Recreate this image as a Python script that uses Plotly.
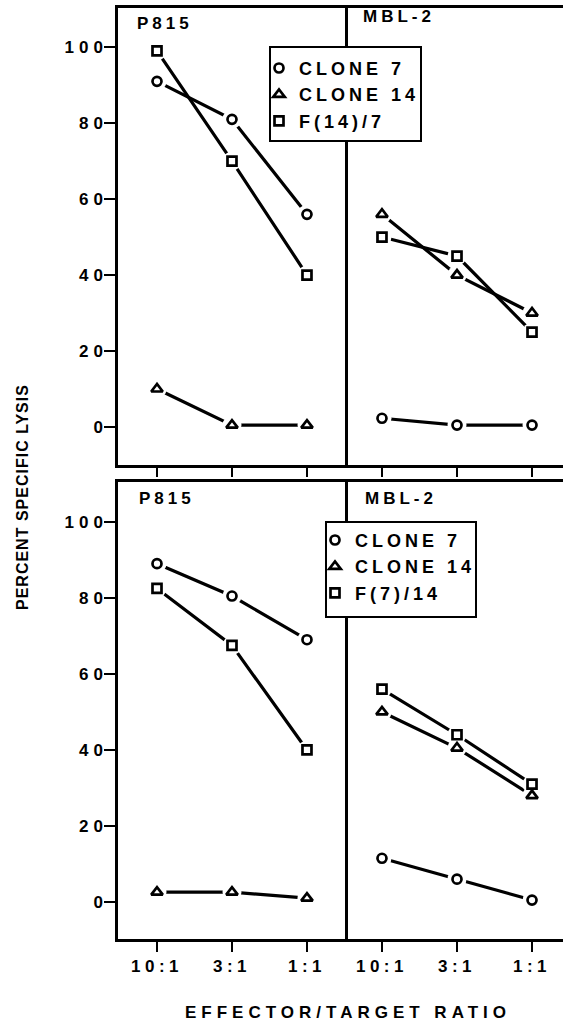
import plotly.graph_objects as go

W, H = 563, 1021
FONT = "Liberation Sans, Arial, sans-serif"

# ---------------- data ----------------
ratios = ["10:1", "3:1", "1:1"]
y_tick_vals = [0, 20, 40, 60, 80, 100]
y_tick_labels = ["0", "20", "40", "60", "80", "100"]
names_top = ["CLONE 7", "CLONE 14", "F(14)/7"]
names_bottom = ["CLONE 7", "CLONE 14", "F(7)/14"]
panel_labels = ["P815", "MBL-2", "P815", "MBL-2"]
x_title = "EFFECTOR/TARGET RATIO"
y_title = "PERCENT SPECIFIC LYSIS"

# top half
top_p815_clone7 = [91, 81, 56]
top_p815_clone14 = [10, 0.5, 0.5]
top_p815_f = [99, 70, 40]
top_mbl_clone7 = [2.3, 0.5, 0.5]
top_mbl_clone14 = [56, 40, 30]
top_mbl_f = [50, 45, 25]
# bottom half
bot_p815_clone7 = [89, 80.5, 69]
bot_p815_clone14 = [2.6, 2.6, 1]
bot_p815_f = [82.5, 67.5, 40]
bot_mbl_clone7 = [11.5, 6, 0.5]
bot_mbl_clone14 = [50, 40.5, 28]
bot_mbl_f = [56, 44, 31]

symbols = ["circle-open", "triangle-up-open", "square-open"]
msizes = [9, 10, 9]


def px(x):
    return x / W


def py(y):
    return 1 - y / H


def sp(t, s):
    return f'<span style="letter-spacing:{s}px">{t}</span>'


fig = go.Figure()

panels = [
    ("x", "y", [top_p815_clone7, top_p815_clone14, top_p815_f], names_top, "legend"),
    ("x2", "y2", [top_mbl_clone7, top_mbl_clone14, top_mbl_f], names_top, None),
    ("x3", "y3", [bot_p815_clone7, bot_p815_clone14, bot_p815_f], names_bottom, "legend2"),
    ("x4", "y4", [bot_mbl_clone7, bot_mbl_clone14, bot_mbl_f], names_bottom, None),
]

# lines first
for xa, ya, series, names, leg in panels:
    for vals in series:
        fig.add_trace(go.Scatter(x=ratios, y=vals, xaxis=xa, yaxis=ya, mode="lines",
                                 line=dict(color="black", width=3.2), showlegend=False,
                                 hoverinfo="skip"))
# white masks to create gaps around markers
for xa, ya, series, names, leg in panels:
    for vals in series:
        fig.add_trace(go.Scatter(x=ratios, y=vals, xaxis=xa, yaxis=ya, mode="markers",
                                 marker=dict(symbol="circle", size=19, color="white",
                                             line=dict(width=0)),
                                 showlegend=False, hoverinfo="skip"))
# markers
for xa, ya, series, names, leg in panels:
    for i, vals in enumerate(series):
        if leg:
            kw = dict(showlegend=True, legend=leg, name=sp(names[i], 4))
        else:
            kw = dict(showlegend=False)
        fig.add_trace(go.Scatter(x=ratios, y=vals, xaxis=xa, yaxis=ya, mode="markers",
                                 marker=dict(symbol=symbols[i], size=msizes[i], color="black",
                                             line=dict(width=2.7, color="black")),
                                 **kw))

tick_font = dict(family=FONT, size=17, color="black", weight=700)

common_x = dict(type="category", categoryarray=ratios, showgrid=False, zeroline=False,
                showline=True, mirror=True, linecolor="black", linewidth=2.5,
                ticks="outside", tickcolor="black", tickwidth=2, ticklen=10,
                tickmode="array", tickvals=ratios, ticktext=[sp(r, 4.5) for r in ratios],
                tickfont=tick_font, fixedrange=True)
common_y = dict(showgrid=False, zeroline=False, linecolor="black", linewidth=2.5,
                tickcolor="black", tickwidth=2, tickfont=tick_font, fixedrange=True)

left_dom = [px(118), px(345)]
right_dom = [px(345), px(1.0 * W)]
top_dom = [py(465), py(8)]
bot_dom = [py(939), py(482)]
left_rng = [-0.52, 2.507]
right_rng = [-0.493, 2.413]
top_rng = [-10, 110.3]
bot_rng = [-9.74, 110.5]

ylab = dict(tickmode="array", tickvals=y_tick_vals, ticktext=[sp(t, 5) for t in y_tick_labels],
            ticks="outside", ticklen=11, showline=True, mirror=True, showticklabels=True,
            ticklabelstandoff=-7)
ynone = dict(showline=False, ticks="", showticklabels=False)

fig.update_layout(
    width=W, height=H,
    margin=dict(l=0, r=0, t=0, b=0),
    paper_bgcolor="white", plot_bgcolor="white",
    xaxis=dict(common_x, domain=left_dom, range=left_rng, anchor="y", showticklabels=False, ticklen=9),
    xaxis2=dict(common_x, domain=right_dom, range=right_rng, anchor="y2", showticklabels=False, ticklen=9),
    xaxis3=dict(common_x, domain=left_dom, range=left_rng, anchor="y3"),
    xaxis4=dict(common_x, domain=right_dom, range=right_rng, anchor="y4"),
    yaxis=dict(common_y, domain=top_dom, range=top_rng, anchor="x", **ylab),
    yaxis2=dict(common_y, domain=top_dom, range=top_rng, anchor="x2", **ynone),
    yaxis3=dict(common_y, domain=bot_dom, range=bot_rng, anchor="x3", **ylab),
    yaxis4=dict(common_y, domain=bot_dom, range=bot_rng, anchor="x4", **ynone),
    legend=dict(x=px(259), y=py(49.8), xanchor="left", yanchor="top",
                bgcolor="rgba(0,0,0,0)", borderwidth=0, itemwidth=30,
                font=dict(family=FONT, size=18, color="black", weight=700)),
    legend2=dict(x=px(315), y=py(521.8), xanchor="left", yanchor="top",
                 bgcolor="rgba(0,0,0,0)", borderwidth=0, itemwidth=30,
                 font=dict(family=FONT, size=18, color="black", weight=700)),
    shapes=[
        dict(type="rect", xref="paper", yref="paper", x0=px(270), x1=px(421), y0=py(141), y1=py(47),
             line=dict(color="black", width=2), fillcolor="white", layer="above"),
        dict(type="rect", xref="paper", yref="paper", x0=px(326), x1=px(476), y0=py(617), y1=py(522),
             line=dict(color="black", width=2), fillcolor="white", layer="above"),
    ],
    showlegend=True,
)

label_font = dict(family=FONT, size=17, color="black", weight=700)
ann = [
    dict(text=sp(panel_labels[0], 4), x=px(135), y=py(23), xanchor="left", yanchor="middle"),
    dict(text=sp(panel_labels[1], 4), x=px(361), y=py(17), xanchor="left", yanchor="middle"),
    dict(text=sp(panel_labels[2], 4), x=px(137), y=py(498), xanchor="left", yanchor="middle"),
    dict(text=sp(panel_labels[3], 4), x=px(363), y=py(498), xanchor="left", yanchor="middle"),
    dict(text=sp(x_title, 5), x=px(348), y=py(1012), xanchor="center", yanchor="middle"),
]
for a in ann:
    fig.add_annotation(xref="paper", yref="paper", showarrow=False, font=label_font, **a)
fig.add_annotation(xref="paper", yref="paper", showarrow=False, text=sp(y_title, 1), textangle=-90,
                   x=px(23), y=py(497), xanchor="center", yanchor="middle",
                   font=dict(family=FONT, size=16, color="black", weight=700))

fig.write_html("out.html", config={"displayModeBar": False},
               post_script="document.body.style.margin='0';")
